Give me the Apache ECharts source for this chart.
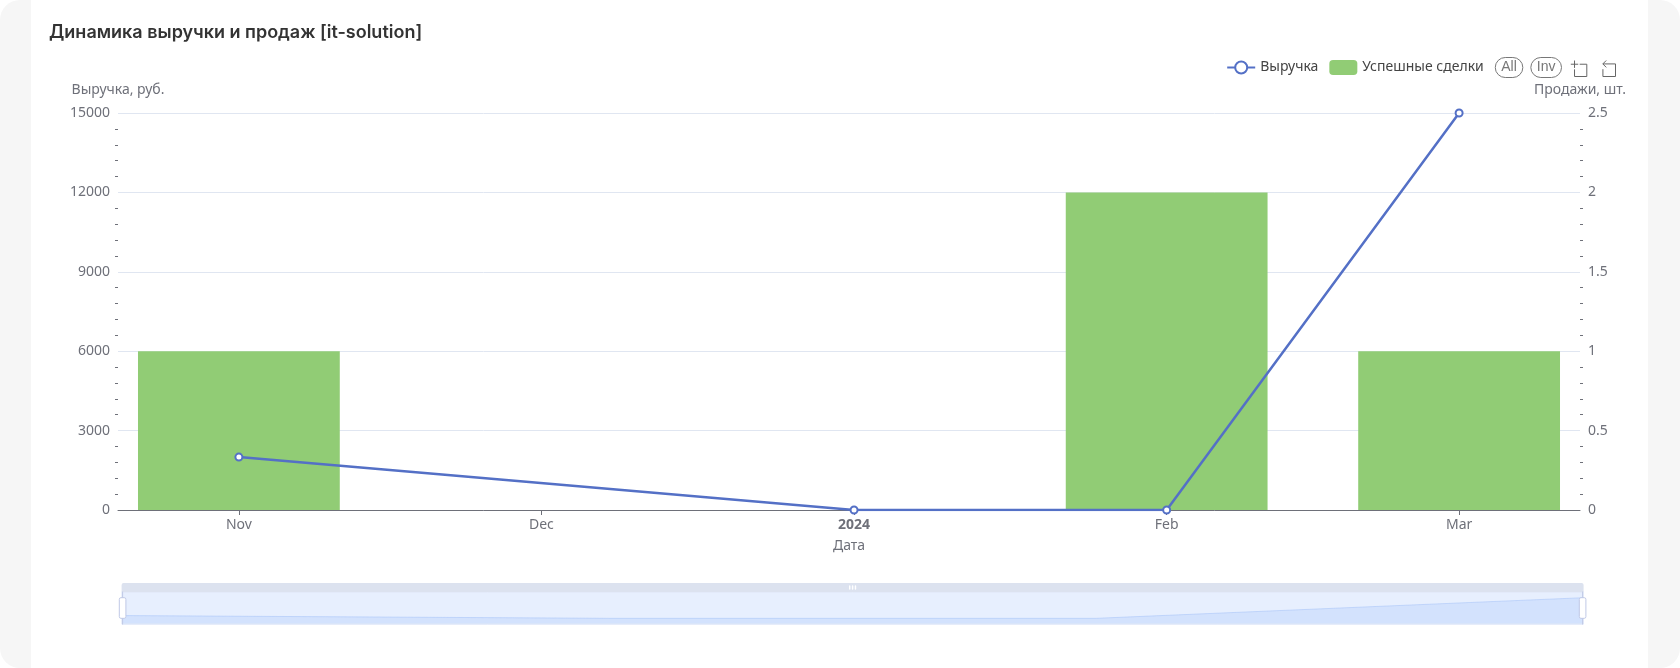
<!DOCTYPE html>
<html><head><meta charset="utf-8">
<style>
html,body{margin:0;padding:0;width:1680px;height:668px;overflow:hidden;background:#fff;}
#page{position:absolute;left:0;top:0;width:1680px;height:668px;background:#f6f6f6;border-radius:20px;overflow:hidden;}
#card{position:absolute;left:31px;top:-30px;width:1617px;height:760px;background:#fff;}
#chart{position:absolute;left:0;top:0;width:1680px;height:668px;}
</style>
<script src="https://cdn.jsdelivr.net/npm/echarts@6/dist/echarts.min.js"></script>
</head><body><div id="page"><div id="card"></div></div><div id="chart"></div>
<script>
const chartTitle = 'Динамика выручки и продаж [it-solution]';
const dates = ['2023-11-01','2024-01-01','2024-02-01','2024-03-01'];
const revenue = [2000,0,0,15000];
const sales = [1,0,2,1];
const revenueName = 'Выручка';
const salesName = 'Успешные сделки';
const font = '"Noto Sans"';
const grey = '#6E7079';
const blue = '#5470C6';
const green = '#91CC75';
const chart = echarts.init(document.getElementById('chart'));
chart.setOption({
  animation:false,
  textStyle:{fontFamily:font},
  title:{text:chartTitle,left:44,top:19,textStyle:{fontFamily:'Inter',fontSize:18,fontWeight:600,color:'#333'}},
  legend:{data:[revenueName,salesName],right:113,top:52,itemWidth:28,itemHeight:15,itemGap:11,textStyle:{fontSize:14,color:'#444'},
    selector:[{type:'all',title:'All'},{type:'inverse',title:'Inv'}],
    selectorLabel:{fontSize:14,color:'#777',borderColor:'#777',padding:[3,6,3,6]},selectorItemGap:7,selectorButtonGap:11},
  toolbox:{right:47,top:43,itemSize:16,itemGap:11,feature:{dataZoom:{yAxisIndex:'none',title:{zoom:'',back:''}}},iconStyle:{borderColor:'#666'}},
  grid:{left:118,right:100,top:113,bottom:158},
  xAxis:[
    {type:'time',name:'Дата',nameLocation:'middle',nameGap:29,nameTextStyle:{fontSize:14,color:grey},
      axisLine:{lineStyle:{color:grey}},axisTick:{show:true,lineStyle:{color:grey}},
      axisLabel:{fontSize:14,color:grey,margin:8},splitLine:{show:false}},
    {type:'category',show:false,data:dates}
  ],
  yAxis:[
    {type:'value',name:'Выручка, руб.',min:0,max:15000,interval:3000,nameGap:16,nameTextStyle:{fontSize:14,color:grey},
      axisLine:{show:false},axisTick:{show:false},minorTick:{show:true,splitNumber:5,length:3,lineStyle:{color:grey}},
      axisLabel:{fontSize:14,color:grey,formatter:v=>String(v)},splitLine:{show:true,lineStyle:{color:'#E0E6F1'}}},
    {type:'value',name:'Продажи, шт.',min:0,max:2.5,interval:0.5,nameGap:16,nameTextStyle:{fontSize:14,color:grey},
      axisLine:{show:false},axisTick:{show:false},minorTick:{show:true,splitNumber:5,length:3,lineStyle:{color:grey}},
      axisLabel:{fontSize:14,color:grey},splitLine:{show:false}}
  ],
  dataZoom:[{type:'slider',xAxisIndex:[1,0],left:118,right:100,top:583,height:33,moveHandleSize:9,showDetail:false,
    borderColor:'#dfe6f5',fillerColor:'rgba(135,175,250,0.2)',
    moveHandleStyle:{color:'#DCE2EF',opacity:1},
    dataBackground:{lineStyle:{color:'#A9C4F7',opacity:1},areaStyle:{color:'#8FB0F7',opacity:0.22}},
    selectedDataBackground:{lineStyle:{color:'#A9C4F7',opacity:1},areaStyle:{color:'#8FB0F7',opacity:0.22}}}],
  series:[
    {name:'_overview',type:'line',xAxisIndex:1,yAxisIndex:0,silent:true,showSymbol:false,lineStyle:{opacity:0},itemStyle:{opacity:0},
      data:revenue,tooltip:{show:false}},
    {name:revenueName,type:'line',z:5,xAxisIndex:0,yAxisIndex:0,symbol:'emptyCircle',symbolSize:7,color:blue,lineStyle:{width:2.5,color:blue},itemStyle:{color:blue,borderWidth:2},
      data:dates.map((d,i)=>[d,revenue[i]])},
    {name:salesName,type:'bar',xAxisIndex:0,yAxisIndex:1,barWidth:'69%',color:green,itemStyle:{color:green},
      data:dates.map((d,i)=>[d,sales[i]])}
  ]
});
</script></body></html>
